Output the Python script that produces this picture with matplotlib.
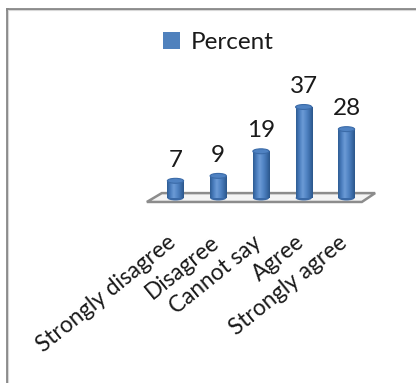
import matplotlib
matplotlib.use("Agg")
import matplotlib.pyplot as plt
import numpy as np
from matplotlib.patches import Ellipse, Polygon, Rectangle
from matplotlib.colors import LinearSegmentedColormap
from matplotlib.lines import Line2D

plt.rcParams['font.family'] = ['Lato', 'DejaVu Sans']

categories = ["Strongly disagree", "Disagree", "Cannot say", "Agree", "Strongly agree"]
percent = [7, 9, 19, 37, 28]
series_name = "Percent"

W, H, DPI = 416, 383, 100
fig = plt.figure(figsize=(W / DPI, H / DPI), dpi=DPI)
fig.patch.set_facecolor("white")
ax = fig.add_axes([0, 0, 1, 1])
ax.set_xlim(-4.105, 5.626)
ax.set_ylim(-75.2, 80.5)
ax.axis("off")

x = np.arange(len(categories))
bar_w = 0.38
base_color = "#4F81BD"

# floor (3D base)
floor = Polygon([(-0.67, -1.6), (-0.32, 2.0), (4.67, 2.0), (4.36, -1.6)],
                closed=True, facecolor="#F4F4F4", edgecolor="#8C8C8C", lw=1.8, zorder=1)
ax.add_patch(floor)

bars = ax.bar(x, percent, width=bar_w, color=base_color, label=series_name,
              edgecolor="none", zorder=3)

cmap = LinearSegmentedColormap.from_list(
    "cyl", ["#2E5C93", "#4A7DBE", "#6C9BD6", "#5487C6", "#3F70AD", "#2B568A"])
grad = np.linspace(0, 1, 64).reshape(1, -1)
cap_h = 2.0
for rect, xi, v in zip(bars, x, percent):
    im = ax.imshow(grad, cmap=cmap, aspect="auto", zorder=4,
                   extent=(xi - bar_w / 2, xi + bar_w / 2, 0, v), interpolation="bilinear")
    im.set_clip_path(rect)
    ax.add_patch(Ellipse((xi, 0), bar_w, cap_h, facecolor="#3A69A6", edgecolor="none", zorder=3.5))
    ax.add_patch(Ellipse((xi, v), bar_w, cap_h, facecolor="#4F82C2",
                         edgecolor="#3B6BA8", lw=0.8, zorder=5))
    ax.text(xi, v + 8.3, str(v), ha="center", va="center", fontsize=17.5, color="#1a1a1a", zorder=6)

for xi, lab in zip(x, categories):
    ax.text(xi - 0.05, -17.0, lab, rotation=39, rotation_mode="anchor",
            ha="right", va="center", fontsize=16.3, color="#1a1a1a")

leg = ax.legend(loc="center", bbox_to_anchor=(0.525, 0.888), bbox_transform=fig.transFigure,
                frameon=False, fontsize=17.5, handlelength=0.7, handleheight=0.7,
                handletextpad=0.45, borderpad=0)
leg.get_texts()[0].set_color("#1a1a1a")

# outer frame (top and left only)
fig.add_artist(Line2D([6.5 / W, 1], [1 - 8.5 / H, 1 - 8.5 / H], transform=fig.transFigure,
                      color="#888888", lw=2.0))
fig.add_artist(Line2D([6.5 / W, 6.5 / W], [0, 1 - 8.5 / H], transform=fig.transFigure,
                      color="#888888", lw=2.0))
fig.add_artist(Line2D([8.5 / W, 1], [1 - 10.3 / H, 1 - 10.3 / H], transform=fig.transFigure,
                      color="#D8D8D8", lw=0.8))
fig.add_artist(Line2D([8.3 / W, 8.3 / W], [0, 1 - 10.3 / H], transform=fig.transFigure,
                      color="#D8D8D8", lw=0.8))

fig.savefig("out.png", dpi=DPI)
